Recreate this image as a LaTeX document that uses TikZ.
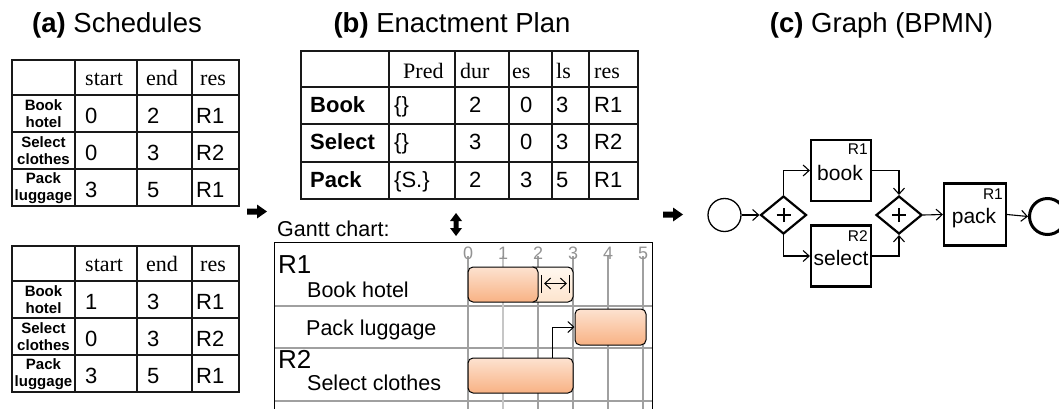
\documentclass[tikz,border=0pt]{standalone}
\usepackage{fontspec}
\setmainfont{Liberation Sans}
\newfontfamily\timesff{Liberation Serif}
\usetikzlibrary{arrows.meta,shapes.geometric}
\definecolor{barTop}{RGB}{253,226,208}
\definecolor{barBot}{RGB}{248,178,132}
\definecolor{slackTop}{RGB}{255,248,240}
\definecolor{slackBot}{RGB}{253,228,205}
\definecolor{gridgray}{RGB}{160,160,160}
\begin{document}
\begin{tikzpicture}[x=1pt,y=-1pt,
  ttl/.style={font=\fontsize{27.5}{30}\selectfont, anchor=base, inner sep=0},
  tline/.style={line width=1.4pt, black!90},
  hd/.style={font=\timesff\fontsize{22}{24}\selectfont, anchor=base west, inner sep=0},
  val/.style={font=\fontsize{22}{24}\selectfont, anchor=base west, inner sep=0},
  rl/.style={font=\bfseries\fontsize{15}{17}\selectfont, align=center, inner sep=0},
  rlb/.style={font=\bfseries\fontsize{22}{24}\selectfont, anchor=base west, inner sep=0},
  gtxt/.style={font=\fontsize{21.5}{24}\selectfont, anchor=base west, inner sep=0},
  gres/.style={font=\fontsize{26}{28}\selectfont, anchor=base west, inner sep=0},
  gdig/.style={font=\fontsize{18}{20}\selectfont, text=gray!85, inner sep=0},
  ggrid/.style={line width=1.5pt, gridgray},
  bar/.style={draw=black, line width=1pt, rounded corners=5pt, top color=barTop, bottom color=barBot, inner sep=0},
  slack/.style={draw=black, line width=1pt, rounded corners=5pt, top color=slackTop, bottom color=slackBot, inner sep=0},
  flow/.style={line width=1.1pt, -{Straight Barb[length=6pt,width=11pt]}},
  task/.style={draw, line width=2.2pt, minimum width=60pt, minimum height=61pt, inner sep=0},
  gw/.style={draw, shape=diamond, line width=2.2pt, minimum width=46pt, minimum height=38pt, inner sep=0},
  ttext/.style={font=\fontsize{21}{23}\selectfont, inner sep=0},
  rtag/.style={font=\fontsize{15.5}{17}\selectfont, inner sep=0, anchor=north east},
  fatarrow/.style={fill=black}
]
\useasboundingbox (0,0) rectangle (1059,408);

% ---------- titles
\node[ttl] (ta) at (117,32) {\textbf{(a)} Schedules};
\node[ttl] (tb) at (452,32) {\textbf{(b)} Enactment Plan};
\node[ttl] (tc) at (881.5,32) {\textbf{(c)} Graph (BPMN)};

% ---------- (a) schedule tables
\foreach \t/\dy/\s/\e in {u/0/0/2, l/186/1/3} {
  \begin{scope}[shift={(0,\dy)}]
    \draw[tline] (12,60) rectangle (239,206);
    \foreach \x in {75,137,192} \draw[tline] (\x,60) -- (\x,206);
    \foreach \y in {95,132,169} \draw[tline] (12,\y) -- (239,\y);
    \node[hd] (\t-hs) at (85,85) {start};
    \node[hd] (\t-he) at (146,85) {end};
    \node[hd] (\t-hr) at (200,85) {res};
    \node[rl] (\t-l1) at (43.5,114) {Book\\hotel};
    \node[rl] (\t-l2) at (43.5,151) {Select\\clothes};
    \node[rl] (\t-l3) at (43.5,188) {Pack\\luggage};
    \node[val] (\t-s1) at (85,123) {\s};
    \node[val] (\t-e1) at (147,123) {\e};
    \node[val] (\t-r1) at (196,123) {R1};
    \node[val] (\t-s2) at (85,160) {0};
    \node[val] (\t-e2) at (147,160) {3};
    \node[val] (\t-r2) at (196,160) {R2};
    \node[val] (\t-s3) at (85,197) {3};
    \node[val] (\t-e3) at (147,197) {5};
    \node[val] (\t-r3) at (196,197) {R1};
  \end{scope}
}

% ---------- (b) enactment plan table
\draw[tline] (301,51) rectangle (638,199);
\foreach \x in {389,455,509,552,589} \draw[tline] (\x,51) -- (\x,199);
\foreach \y in {87,124,162} \draw[tline] (301,\y) -- (638,\y);
\node[hd] (p-h1) at (403,78) {Pred};
\node[hd] (p-h2) at (460,78) {dur};
\node[hd] (p-h3) at (512,78) {es};
\node[hd] (p-h4) at (556,78) {ls};
\node[hd] (p-h5) at (594,78) {res};
\foreach \r/\yb/\nm/\pr/\du/\es/\ls/\rs in {1/112/Book/\{\}/2/0/3/R1, 2/149/Select/\{\}/3/0/3/R2, 3/187/Pack/\{S.\}/2/3/5/R1} {
  \node[rlb] (p-n\r) at (310,\yb) {\nm};
  \node[val] (p-p\r) at (394,\yb) {\pr};
  \node[val] (p-d\r) at (469,\yb) {\du};
  \node[val] (p-e\r) at (520,\yb) {\es};
  \node[val] (p-l\r) at (556,\yb) {\ls};
  \node[val] (p-r\r) at (594,\yb) {\rs};
}

% ---------- fat arrows
\fill[fatarrow] (247,208.5) -- (257,208.5) -- (257,204.5) -- (267,211.5) -- (257,218.5) -- (257,214.5) -- (247,214.5) -- cycle;
\fill[fatarrow] (663,211.5) -- (673,211.5) -- (673,207.5) -- (683,214.5) -- (673,221.5) -- (673,217.5) -- (663,217.5) -- cycle;
\fill[fatarrow] (456,213) -- (462,221) -- (458.5,221) -- (458.5,228) -- (462,228) -- (456,236) -- (450,228) -- (453.5,228) -- (453.5,221) -- (450,221) -- cycle;

% ---------- Gantt chart
\node[gtxt] (gantt) at (277,236) {Gantt chart:};
\foreach \y in {306,348,401} \draw[ggrid] (274,\y) -- (652,\y);
\foreach \i in {0,...,5} {
  \pgfmathsetmacro{\gx}{468+35*\i}
  \ifnum\i=1
    \draw[line width=1.5pt, gray!45] (\gx,256) -- (\gx,410);
  \else
    \draw[ggrid] (\gx,256) -- (\gx,410);
  \fi
  \node[gdig] (d\i) at (\gx,253) {\i};
}
\draw[line width=1pt] (274,410) -- (274,242) -- (652,242) -- (652,410);
\node[gres] (gr1) at (278,273) {R1};
\node[gtxt] (gbook) at (307,297) {Book hotel};
\node[gtxt] (gpack) at (306,335) {Pack luggage};
\node[gres] (gr2) at (278,368) {R2};
\node[gtxt] (gsel) at (307,390) {Select clothes};

\node[slack, minimum width=45pt, minimum height=35pt] (slackbar) at (550.5,284.5) {};
\node[bar, minimum width=70pt, minimum height=35pt] (bookbar) at (503,284.5) {};
\node[bar, minimum width=71pt, minimum height=36pt] (packbar) at (610.5,327) {};
\node[bar, minimum width=105pt, minimum height=35pt] (selbar) at (520.5,375.5) {};
% slack marker
\coordinate (sl1) at (541.5,283.5);
\coordinate (sl2) at (569.5,283.5);
\draw[line width=1.8pt] ([yshift=-9]sl1) -- ([yshift=9]sl1);
\draw[line width=1.8pt] ([yshift=-9]sl2) -- ([yshift=9]sl2);
\draw[line width=1pt, {Straight Barb[length=6pt,width=11pt]}-{Straight Barb[length=6pt,width=11pt]}] ([xshift=2.5]sl1) -- ([xshift=-2.5]sl2);
% dependency
\draw[line width=1pt, -{Straight Barb[length=6pt,width=11pt]}] ([xshift=-21]selbar.north east) |- (packbar.west);

% ---------- (c) BPMN graph
\node[draw, circle, line width=1.3pt, minimum size=33pt, inner sep=0] (start) at (724.5,215) {};
\node[gw] (g1) at (783.5,215) {};
\node[gw] (g2) at (899,215) {};
\foreach \g in {g1,g2} {
  \draw[line width=2pt] ([xshift=-7]\g.center) -- ([xshift=7]\g.center);
  \draw[line width=2pt] ([yshift=-7]\g.center) -- ([yshift=7]\g.center);
}
\node[task] (book) at (841,170.5) {};
\node[task] (select) at (841,256) {};
\node[task, minimum width=62pt, minimum height=62pt] (pack) at (975,214.5) {};
\node[draw, circle, line width=3pt, minimum size=36pt, inner sep=0] (end) at (1047.5,216.5) {};

\node[ttext] (booktxt) at (840,173) {book};
\node[rtag] (bookres) at (868,144) {R1};
\node[ttext] (seltxt) at (841,258) {select};
\node[rtag] (selres) at (868,230) {R2};
\node[ttext] (packtxt) at (974,218) {pack};
\node[rtag] (packres) at (1003,189) {R1};

\draw[flow] (start) -- (g1);
\draw[flow] (g1.north) |- (book.west);
\draw[flow] (g1.south) |- (select.west);
\draw[flow] (book.east) -| (g2.north);
\draw[flow] (select.east) -| (g2.south);
\draw[flow] (g2.east) -- (pack.west);
\draw[flow] (pack.east) -- (end.west);
\end{tikzpicture}
\end{document}
